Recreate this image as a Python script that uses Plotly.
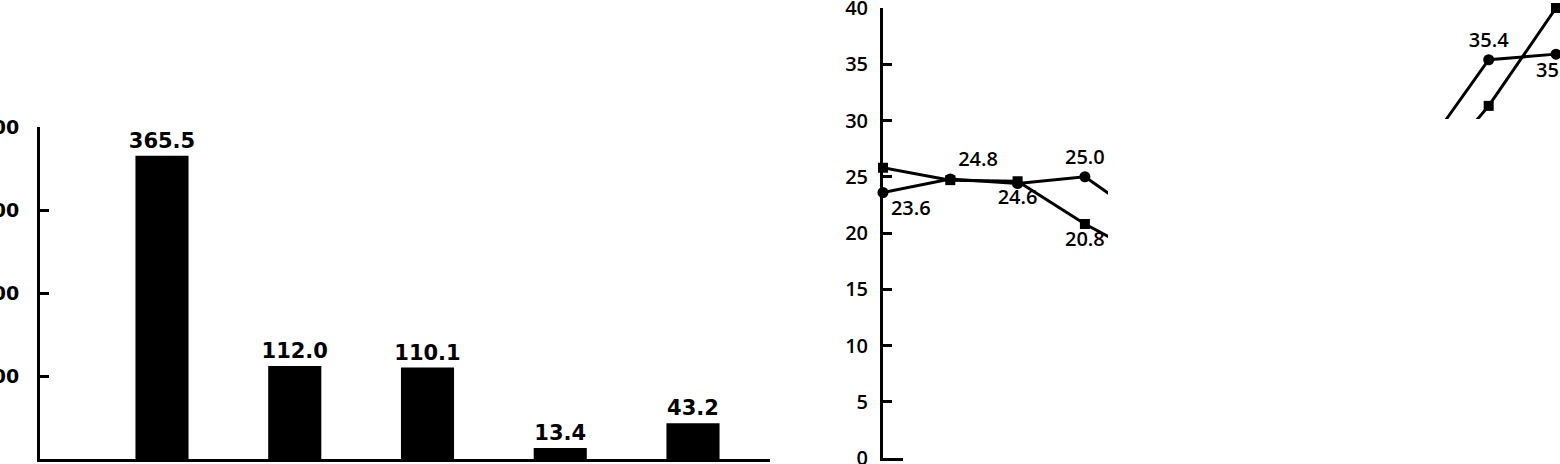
import plotly.graph_objects as go

W, H = 1560, 464

# ---- left bar chart data ----
bar_categories = ["1", "2", "3", "4", "5"]
bar_values = [365.5, 112.0, 110.1, 13.4, 43.2]
bar_labels = ["365.5", "112.0", "110.1", "13.4", "43.2"]
bar_ticks = [100, 200, 300, 400]

# ---- right line chart data (middle section hidden in the picture) ----
line_x = [0, 1, 2, 3, 4, 5, 6, 7, 8, 9, 10]
circle_values = [23.6, 24.8, 24.4, 25.0, 20.8, None, None, None, 27.0, 35.4, 35.9]
circle_labels = ["23.6", "24.8", "", "25.0", "", "", "", "", "", "35.4", "35.9"]
circle_label_pos = ["bottom right", "top right", "top center", "top center", "top center",
                    "top center", "top center", "top center", "top center", "top center", "bottom center"]
square_values = [25.8, 24.7, 24.6, 20.8, 17.6, None, None, None, 24.2, 31.3, 40.0]
square_labels = ["", "", "24.6", "20.8", "", "", "", "", "", "", ""]
line_ticks = [0, 5, 10, 15, 20, 25, 30, 35, 40]

heavy = dict(family="DejaVu Sans", size=21, color="black", weight="bold")
medium = dict(family="Open Sans", size=20, color="black", weight=600)

fig = go.Figure()
fig.add_trace(go.Bar(
    x=bar_categories, y=bar_values, text=bar_labels, textposition="outside",
    textfont=heavy, constraintext="none", marker=dict(color="black", line=dict(width=0)),
    width=0.40, cliponaxis=False, xaxis="x", yaxis="y", showlegend=False))

fig.add_trace(go.Scatter(
    x=line_x, y=circle_values, mode="lines+markers+text", text=circle_labels,
    textposition=circle_label_pos, textfont=medium,
    line=dict(color="black", width=3), marker=dict(symbol="circle", size=11, color="black"),
    connectgaps=False, cliponaxis=False, xaxis="x2", yaxis="y2", showlegend=False))
fig.add_trace(go.Scatter(
    x=line_x, y=square_values, mode="lines+markers+text", text=square_labels,
    textposition="bottom center", textfont=medium,
    line=dict(color="black", width=3), marker=dict(symbol="square", size=10, color="black"),
    connectgaps=False, cliponaxis=False, xaxis="x2", yaxis="y2", showlegend=False))

def px_x(p):
    return p / W

def px_y(p):
    return 1 - p / H

left_x0, left_x1 = 40, 770
c0, c4 = 162, 693
unit = (c4 - c0) / 4
r_x0, r_x1 = 883, 1560
r_unit = 67.3

fig.update_layout(
    width=W, height=H, margin=dict(l=0, r=0, t=0, b=0, autoexpand=False),
    paper_bgcolor="white", plot_bgcolor="white",
    xaxis=dict(domain=[px_x(left_x0), px_x(left_x1)],
               range=[(left_x0 - c0) / unit, (left_x1 - c0) / unit], automargin=False,
               showline=True, linewidth=3, linecolor="black", showticklabels=False,
               ticks="", showgrid=False, zeroline=False),
    yaxis=dict(domain=[px_y(459), px_y(127)], range=[0, 400], tickvals=bar_ticks,
               automargin=False, ticklabeloverflow="allow",
               showline=True, linewidth=3, linecolor="black", ticks="inside",
               ticklen=9, tickwidth=3, tickcolor="black", showgrid=False, zeroline=False,
               tickfont=dict(family="DejaVu Sans", size=19, color="black", weight="bold"),
               ticklabelstandoff=14),
    xaxis2=dict(domain=[px_x(r_x0), px_x(r_x1)], range=[0, (r_x1 - r_x0) / r_unit],
                automargin=False,
                showline=True, linewidth=3, linecolor="black", showticklabels=False,
                ticks="", showgrid=False, zeroline=False, anchor="y2"),
    yaxis2=dict(domain=[px_y(458), px_y(8)], range=[0, 40], tickvals=line_ticks,
                automargin=False, ticklabeloverflow="allow",
                anchor="x2", showline=True, linewidth=3, linecolor="black",
                ticks="inside", ticklen=9, tickwidth=3, tickcolor="black",
                showgrid=False, zeroline=False, tickfont=medium, ticklabelstandoff=8),
    shapes=[
        dict(type="rect", xref="paper", yref="paper", layer="above",
             x0=px_x(1108), x1=1.0, y0=0.0, y1=px_y(119),
             fillcolor="white", line=dict(width=0)),
        dict(type="rect", xref="paper", yref="paper", layer="above",
             x0=px_x(903), x1=px_x(1109), y0=0.0, y1=px_y(445),
             fillcolor="white", line=dict(width=0)),
    ],
)

fig.write_html("out.html", config={"displayModeBar": False},
               post_script="document.body.style.margin='0px';document.body.style.overflow='hidden';")
